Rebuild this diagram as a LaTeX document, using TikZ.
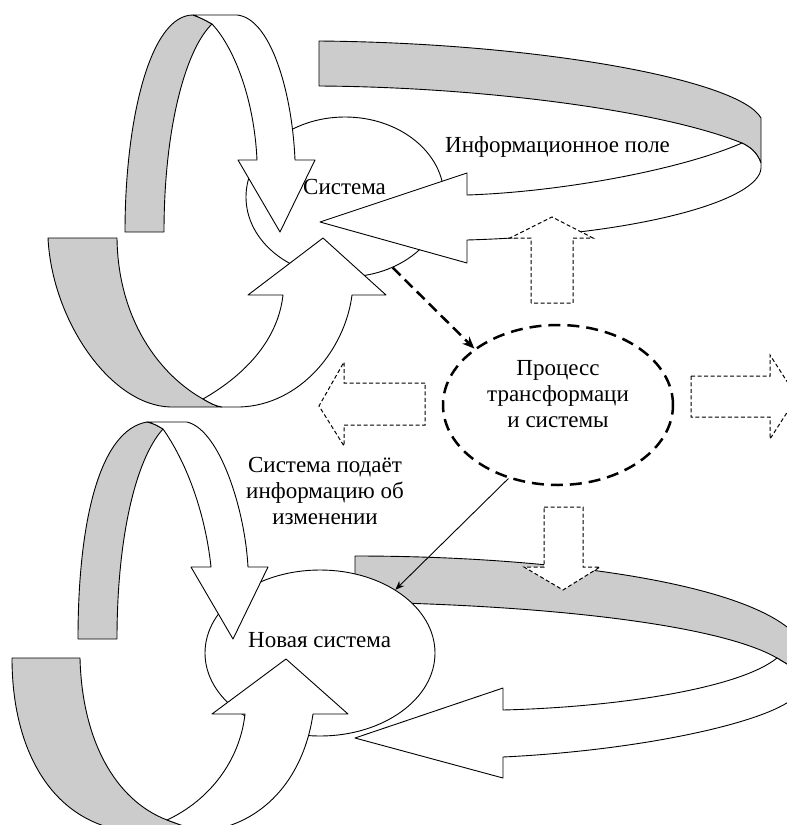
\documentclass[tikz,border=0pt]{standalone}
\usepackage{fontspec}
\setmainfont{Liberation Serif}
\newfontfamily\diagfont{Liberation Serif}
\usetikzlibrary{shapes.geometric,arrows.meta}
\begin{document}
\begin{tikzpicture}[x=1pt,y=-1pt,
  ln/.style={line width=0.9pt, line join=round},
  backside/.style={ln, draw=black, fill=black!20},
  frontside/.style={ln, draw=black, fill=white},
  dasharrow/.style={draw=black, fill=white, line width=1pt, dash pattern=on 4pt off 2.5pt},
  oval/.style={ellipse, draw=black, fill=white, line width=0.9pt, inner sep=0pt},
  lbl/.style={font=\diagfont\fontsize{23}{26}\selectfont, inner sep=0pt, align=center},
]
\useasboundingbox (0,0) rectangle (787,825);
\clip (0,0) rectangle (787,825);

% bottom ribbon (under "Новая система")
\path[backside] (355,556) .. controls (560,556) and (760,585) .. (800,640) -- (800,672) -- (777,658)
  .. controls (720,625) and (550,605) .. (355,602) -- cycle;
\path[frontside] (777,658) -- (800,672) -- (800,690) .. controls (790,718) and (650,750) .. (503,757)
  -- (503,778) -- (355,738) -- (503,688) -- (503,710) .. controls (620,707) and (740,688) .. (777,658) -- cycle;

% ellipses
\node[oval, minimum width=198pt, minimum height=160pt] (sys1) at (345,197) {};
\node[oval, minimum width=230pt, minimum height=166pt] (sys2) at (320,653) {};

% top ribbon
\path[backside] (319,41) .. controls (540,43) and (740,80) .. (761,118) -- (761,163)
  .. controls (757,152) and (750,147) .. (742,143) .. controls (660,110) and (480,87) .. (319,86) -- cycle;
\path[frontside] (761,163) .. controls (757,152) and (750,147) .. (742,143)
  .. controls (680,170) and (560,192) .. (467,195) -- (467,173) -- (320,222) -- (467,263) -- (467,240)
  .. controls (640,235) and (760,200) .. (761,168) -- cycle;

% top-left group: down arrow
\path[backside] (125,232) -- (164,232) .. controls (164,130) and (185,50) .. (212,24)
  .. controls (205,20) and (199,17) .. (193,15) .. controls (150,15) and (125,120) .. (125,232) -- cycle;
\path[frontside] (193,15) -- (237,15) .. controls (270,18) and (292,90) .. (295,160) -- (315,160) -- (280,232)
  -- (238,160) -- (257,160) .. controls (254,95) and (232,45) .. (212,24)
  .. controls (205,20) and (199,17) .. (193,15) -- cycle;
% top-left group: up arrow
\path[backside] (48,238) -- (117,238) .. controls (118,320) and (160,375) .. (203,399)
  .. controls (210,403) and (215,406) .. (222,407) -- (170,407) .. controls (110,405) and (52,320) .. (48,238) -- cycle;
\path[frontside] (203,399) .. controls (210,403) and (215,406) .. (222,407) -- (240,407)
  .. controls (300,405) and (345,350) .. (352,295) -- (386,295) -- (323,238) -- (248,295) -- (283,295)
  .. controls (278,340) and (245,375) .. (203,399) -- cycle;

% bottom-left group: down arrow
\path[backside] (78,639) -- (117,639) .. controls (117,540) and (135,460) .. (163,429)
  .. controls (158,426) and (153,423) .. (147,422) .. controls (100,430) and (78,520) .. (78,639) -- cycle;
\path[frontside] (147,422) -- (187,422) .. controls (220,430) and (245,510) .. (248,567) -- (268,567) -- (233,639)
  -- (191,567) -- (211,567) .. controls (205,510) and (185,460) .. (163,429)
  .. controls (158,426) and (153,423) .. (147,422) -- cycle;
% bottom-left group: up arrow
\path[backside] (12,658) -- (80,658) .. controls (82,740) and (115,800) .. (167,820) -- (200,832) -- (140,832)
  .. controls (60,830) and (12,760) .. (12,658) -- cycle;
\path[frontside] (167,820) .. controls (210,800) and (240,760) .. (245,714) -- (212,714) -- (286,659) -- (348,714)
  -- (313,714) .. controls (305,770) and (270,825) .. (200,832) -- cycle;

% process ellipse
\node[ellipse, draw=black, fill=white, line width=2.5pt, dash pattern=on 12pt off 7pt, inner sep=0pt,
  minimum width=230pt, minimum height=160pt] (proc) at (558,405) {};

% dashed block arrows
\path[dasharrow] (531,303) -- (531,238) -- (510,238) -- (552,217) -- (593,238) -- (573,238) -- (573,303) -- cycle;
\path[dasharrow] (425,383) -- (344,383) -- (344,362) -- (319,406) -- (344,446) -- (344,425) -- (425,425) -- cycle;
\path[dasharrow] (691,376) -- (770,376) -- (770,355) -- (797,397) -- (770,439) -- (770,417) -- (691,417) -- cycle;
\path[dasharrow] (544,507) -- (583,507) -- (583,567) -- (600,567) -- (563,590) -- (524,567) -- (544,567) -- cycle;

% connectors
\draw[line width=2.5pt, dash pattern=on 11pt off 6pt, -{Stealth[length=12pt,width=10pt]}] (sys1.-56) -- (proc.146);
\draw[line width=0.9pt, -{Stealth[length=9pt,width=7pt]}] (proc.236) -- (sys2.40);

% texts
\node[lbl, anchor=base west] (tinfo) at (445,152) {Информационное поле};
\node[lbl, anchor=base west] (tsys1) at (303,194) {Система};
\node[lbl, anchor=base west] (tsys2) at (248,647) {Новая система};
\node[lbl] (tproc) at (558,394.5) {Процесс\\трансформаци\\и системы};
\node[lbl] (tfeed) at (325,491) {Система подаёт\\информацию об\\изменении};
\end{tikzpicture}
\end{document}
